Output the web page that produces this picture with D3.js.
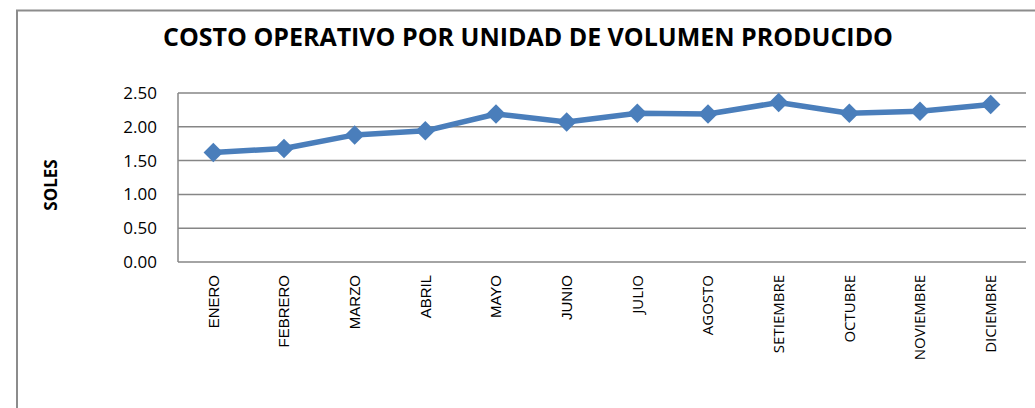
<!DOCTYPE html>
<html lang="es">
<head>
<meta charset="utf-8">
<script src="https://cdn.jsdelivr.net/npm/d3@7/dist/d3.min.js"></script>
<style>
  body { margin: 0; background: #fff; }
  .title { font-family: "Open Sans", sans-serif; font-weight: bold; font-size: 25px; fill: #000; }
  .ylab { font-family: "Open Sans", sans-serif; font-weight: bold; font-size: 17px; fill: #000; }
  .y.axis text { font-family: "Open Sans", sans-serif; font-size: 17px; fill: #000; }
  .x.axis text { font-size: 15px; fill: #000; }
</style>
</head>
<body>
<svg id="chart" width="1035" height="408"></svg>
<script>
var months = ["ENERO", "FEBRERO", "MARZO", "ABRIL", "MAYO", "JUNIO", "JULIO",
  "AGOSTO", "SETIEMBRE", "OCTUBRE", "NOVIEMBRE", "DICIEMBRE"];
var costs = [1.62, 1.68, 1.88, 1.94, 2.19, 2.07, 2.20, 2.19, 2.36, 2.20, 2.23, 2.33];
var yTicks = [0, 0.5, 1, 1.5, 2, 2.5];

var plotLeft = 178, plotRight = 1026, plotTop = 93, plotBottom = 262;
var svg = d3.select("#chart");

// outer frame
svg.append("path")
  .attr("d", "M17,420 V10.5 H1040")
  .attr("fill", "none")
  .attr("stroke", "#8c8c8c")
  .attr("stroke-width", 2);

svg.append("text")
  .attr("class", "title")
  .attr("x", 528).attr("y", 46)
  .attr("text-anchor", "middle")
  .attr("textLength", 730)
  .attr("lengthAdjust", "spacingAndGlyphs")
  .text("COSTO OPERATIVO POR UNIDAD DE VOLUMEN PRODUCIDO");

var x = d3.scaleBand().domain(months).range([plotLeft, plotRight]);
var y = d3.scaleLinear().domain([0, 2.5]).range([plotBottom, plotTop]);

// gridlines
svg.append("g")
  .selectAll("line")
  .data(yTicks)
  .enter().append("line")
  .attr("x1", plotLeft).attr("x2", plotRight)
  .attr("y1", function(d) { return y(d); })
  .attr("y2", function(d) { return y(d); })
  .attr("stroke", "#868686")
  .attr("stroke-width", 1.5);

svg.append("line")
  .attr("x1", plotLeft).attr("x2", plotLeft)
  .attr("y1", plotTop).attr("y2", plotBottom)
  .attr("stroke", "#868686")
  .attr("stroke-width", 1.5);

var yAxis = d3.axisLeft(y).tickValues(yTicks).tickSize(0).tickPadding(21)
  .tickFormat(d3.format(".2f"));
svg.append("g")
  .attr("class", "y axis")
  .attr("transform", "translate(" + plotLeft + ",0)")
  .call(yAxis)
  .call(function(g) { g.select(".domain").remove(); });

var xAxis = d3.axisBottom(x).tickSize(0).tickPadding(0);
svg.append("g")
  .attr("class", "x axis")
  .attr("transform", "translate(0," + plotBottom + ")")
  .call(xAxis)
  .call(function(g) { g.select(".domain").remove(); })
  .selectAll("text")
  .attr("transform", "rotate(-90)")
  .attr("text-anchor", "end")
  .attr("x", -13)
  .attr("y", 0)
  .attr("dy", "0.35em")
  .style("font-family", function(d, i) {
    return i < 6 ? "'Liberation Sans', Arial, sans-serif" : "'Open Sans', sans-serif";
  });

svg.append("text")
  .attr("class", "ylab")
  .attr("transform", "translate(57,185) rotate(-90)")
  .attr("text-anchor", "middle")
  .text("SOLES");

var line = d3.line()
  .x(function(d, i) { return x(months[i]) + x.bandwidth() / 2; })
  .y(function(d) { return y(d); });

svg.append("path")
  .datum(costs)
  .attr("d", line)
  .attr("fill", "none")
  .attr("stroke", "#4a7ebb")
  .attr("stroke-width", 5.5)
  .attr("stroke-linejoin", "round");

svg.append("g")
  .selectAll("path")
  .data(costs)
  .enter().append("path")
  .attr("d", d3.symbol().type(d3.symbolSquare).size(190))
  .attr("transform", function(d, i) {
    return "translate(" + (x(months[i]) + x.bandwidth() / 2) + "," + y(d) + ") rotate(45)";
  })
  .attr("fill", "#4a7ebb");
</script>
</body>
</html>
